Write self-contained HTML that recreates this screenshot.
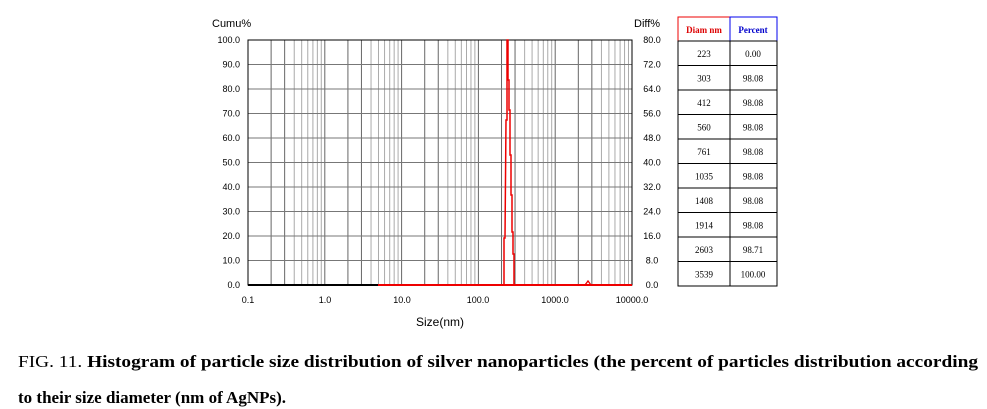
<!DOCTYPE html>
<html><head><meta charset="utf-8"><style>
html,body{margin:0;padding:0;background:#fff;width:987px;height:409px;overflow:hidden}
svg{display:block}
</style></head><body>
<svg id="s" width="987" height="409" xmlns="http://www.w3.org/2000/svg" font-family="Liberation Sans, sans-serif">
<g id="grid"></g>
<rect x="248" y="40" width="384" height="245" fill="none" stroke="#000" stroke-width="1"/>
<g font-size="9" fill="#000" text-anchor="end" id="ylab"></g>
<text x="212" y="27" font-size="11">Cumu%</text>
<text x="634" y="27" font-size="11">Diff%</text>
<text x="440" y="326" font-size="12" text-anchor="middle">Size(nm)</text>
<g font-size="9" text-anchor="middle">
<text x="248" y="303">0.1</text><text x="325" y="303">1.0</text><text x="402" y="303">10.0</text>
<text x="478" y="303">100.0</text><text x="555" y="303">1000.0</text><text x="632" y="303">10000.0</text>
</g>
<line x1="248" y1="285" x2="378" y2="285" stroke="#000" stroke-width="2"/>
<line x1="378" y1="285" x2="632" y2="285" stroke="#e00" stroke-width="2"/>
<polyline fill="none" stroke="#e00" stroke-width="1.5" points="504,285 504,238 505,238 506,120 507,120 507,40 508,40 508,80 509,80 509,110 510,110 510,155 511,155 511,195 512,195 512,232 513,232 513,254 514,254 514,285"/>
<polyline fill="none" stroke="#e00" stroke-width="1.3" points="585,285 588,281 591,285"/>
<g id="tbl" font-family="Liberation Serif, serif" font-size="9" text-anchor="middle"></g>
<text x="18" y="367" font-family="Liberation Serif, serif" font-size="17" textLength="960" lengthAdjust="spacingAndGlyphs">FIG. 11. <tspan font-weight="bold">Histogram of particle size distribution of silver nanoparticles (the percent of particles distribution according</tspan></text>
<text x="18" y="403" font-family="Liberation Serif, serif" font-size="17" font-weight="bold">to their size diameter (nm of AgNPs).</text>
</svg>
<script>
var NS="http://www.w3.org/2000/svg";
function el(p,t,a,txt){var e=document.createElementNS(NS,t);for(var k in a)e.setAttribute(k,a[k]);if(txt!=null)e.textContent=txt;document.getElementById(p).appendChild(e);return e;}
for(var d=0;d<5;d++)for(var k=1;k<=9;k++){var x=248+76.8*(d+Math.log10(k));if(k==1&&d==0)continue;
el("grid","line",{x1:x,y1:40,x2:x,y2:285,stroke:(k==1||k==2||k==3)?"#666":"#aaa","stroke-width":1});}
for(var i=0;i<=10;i++){var y=285-24.5*i;
el("grid","line",{x1:248,y1:y,x2:632,y2:y,stroke:"#777","stroke-width":1});
el("ylab","text",{x:240,y:y+3},(i*10).toFixed(1));
el("ylab","text",{x:652,y:y+3,"text-anchor":"middle"},(i*8).toFixed(1));}
el("tbl","rect",{x:678,y:17,width:52,height:24,fill:"none",stroke:"#e00"});
el("tbl","rect",{x:730,y:17,width:47,height:24,fill:"none",stroke:"#00e"});
el("tbl","text",{x:704,y:33,fill:"#d00","font-weight":"bold"},"Diam nm");
el("tbl","text",{x:753,y:33,fill:"#00c","font-weight":"bold"},"Percent");
var D=[["223","0.00"],["303","98.08"],["412","98.08"],["560","98.08"],["761","98.08"],["1035","98.08"],["1408","98.08"],["1914","98.08"],["2603","98.71"],["3539","100.00"]];
for(var i=0;i<10;i++){var y=41+24.5*i;
el("tbl","rect",{x:678,y:y,width:52,height:24.5,fill:"none",stroke:"#000"});
el("tbl","rect",{x:730,y:y,width:47,height:24.5,fill:"none",stroke:"#000"});
el("tbl","text",{x:704,y:y+16},D[i][0]);el("tbl","text",{x:753,y:y+16},D[i][1]);}
</script>
</body></html>
